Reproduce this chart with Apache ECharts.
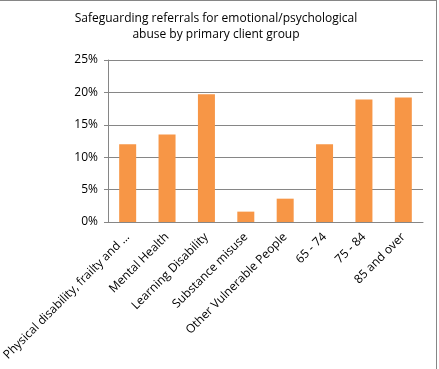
<!DOCTYPE html>
<html><head><meta charset="utf-8">
<script src="https://cdn.jsdelivr.net/npm/echarts@6/dist/echarts.min.js"></script>
<style>html,body{margin:0;padding:0;background:#fff}#c{width:439px;height:369px}</style>
</head><body><div id="c"></div>
<script>
var categories = ["Physical disability, frailty and ...", "Mental Health", "Learning Disability", "Substance misuse", "Other Vulnerable People", "65 - 74", "75 - 84", "85 and over"];
var values = [12.0, 13.5, 19.7, 1.6, 3.6, 12.0, 18.9, 19.2];
var yTicks = [0, 5, 10, 15, 20, 25];
var titleText = "Safeguarding referrals for emotional/psychological\nabuse by primary client group";

var chart = echarts.init(document.getElementById('c'), null, {renderer: 'canvas'});
var font = "'Open Sans', 'Liberation Sans', sans-serif";
chart.setOption({
  animation: false,
  title: {
    text: titleText, left: 216, top: 11, padding: 0, textAlign: 'center',
    textStyle: {fontFamily: font, fontSize: 12, fontWeight: 'normal', color: '#000', lineHeight: 16}
  },
  grid: {left: 96, right: 16, top: 60, bottom: 147},
  xAxis: {
    type: 'category', data: categories,
    axisLine: {lineStyle: {color: '#868686'}},
    axisTick: {length: 4, lineStyle: {color: '#868686'}},
    axisLabel: {rotate: 45, interval: 0, margin: 13, fontFamily: font, fontSize: 12, color: '#000'}
  },
  yAxis: {
    type: 'value', min: yTicks[0], max: yTicks[yTicks.length-1], interval: 5,
    axisLine: {show: true, lineStyle: {color: '#868686'}},
    axisTick: {show: true, length: 4, lineStyle: {color: '#868686'}},
    splitLine: {lineStyle: {color: '#868686'}},
    axisLabel: {formatter: '{value}%', margin: 10, fontFamily: font, fontSize: 12, color: '#000'}
  },
  series: [{type: 'bar', data: values, barWidth: 17, itemStyle: {color: '#F79646'}}],
  graphic: [
    {type: 'line', shape: {x1: 0, y1: 0.5, x2: 436.5, y2: 0.5}, style: {stroke: '#868686', lineWidth: 1}},
    {type: 'line', shape: {x1: 436.5, y1: 0, x2: 436.5, y2: 369}, style: {stroke: '#868686', lineWidth: 1}}
  ]
});
</script></body></html>
